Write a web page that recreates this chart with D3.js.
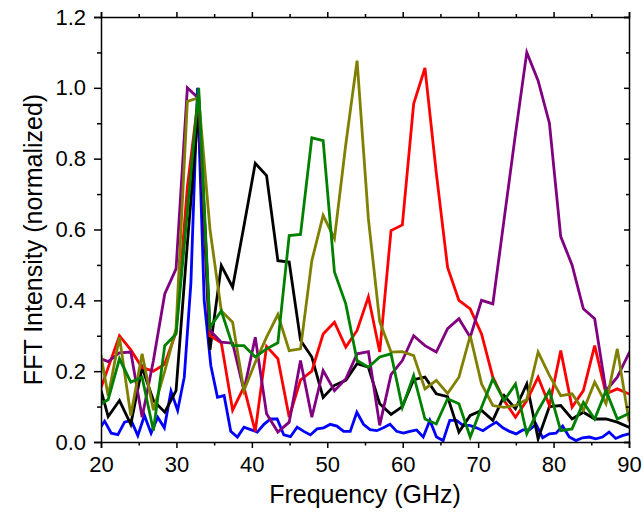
<!DOCTYPE html>
<html>
<head>
<meta charset="utf-8">
<script src="https://cdn.jsdelivr.net/npm/d3@7"></script>
<style>
  body { margin: 0; background: #fff; }
  text { font-family: Arial, "Liberation Sans", sans-serif; fill: #000; }
</style>
</head>
<body>
<div id="chart"></div>
<script>
// frequency grids (GHz)
var freqCoarse = [19.45, 20.95, 22.45, 23.95, 25.45, 26.95, 28.45, 29.95, 31.45, 32.95, 34.45, 35.95, 37.45, 38.95,
  40.45, 41.95, 43.45, 44.95, 46.45, 47.95, 49.45, 50.95, 52.45, 53.95, 55.45, 56.95, 58.45, 59.95, 61.45, 62.95,
  64.45, 65.95, 67.45, 68.95, 70.45, 71.95, 73.45, 74.95, 76.45, 77.95, 79.45, 80.95, 82.45, 83.95, 85.45, 86.95,
  88.45, 89.95, 91.45];
var freqFine = [19.6, 20.48, 21.36, 22.24, 23.12, 24.0, 24.88, 25.76, 26.64, 27.52, 28.4, 29.28, 30.16, 31.04, 31.92,
  32.8, 33.68, 34.56, 35.44, 36.32, 37.2, 38.08, 38.96, 39.84, 40.72, 41.6, 42.48, 43.36, 44.24, 45.12, 46.0, 46.88,
  47.76, 48.64, 49.52, 50.4, 51.28, 52.16, 53.04, 53.92, 54.8, 55.68, 56.56, 57.44, 58.32, 59.2, 60.08, 60.96, 61.84,
  62.72, 63.6, 64.48, 65.36, 66.24, 67.12, 68.0, 68.88, 69.76, 70.64, 71.52, 72.4, 73.28, 74.16, 75.04, 75.92, 76.8,
  77.68, 78.56, 79.44, 80.32, 81.2, 82.08, 82.96, 83.84, 84.72, 85.6, 86.48, 87.36, 88.24, 89.12, 90.0, 90.88];

// normalized FFT intensity
var blueVals = [0.03, 0.059, 0.025, 0.021, 0.056, 0.061, 0.018, 0.075, 0.025, 0.07, 0.04, 0.143, 0.089, 0.183, 0.45,
  1.0, 0.40, 0.216, 0.126, 0.131, 0.03, 0.014, 0.042, 0.035, 0.028, 0.05, 0.065, 0.065, 0.02, 0.015, 0.042, 0.03,
  0.02, 0.037, 0.04, 0.05, 0.045, 0.03, 0.03, 0.084, 0.05, 0.035, 0.032, 0.04, 0.05, 0.03, 0.025, 0.03, 0.034, 0.014,
  0.061, 0.014, 0.004, 0.061, 0.061, 0.047, 0.047, 0.04, 0.032, 0.045, 0.056, 0.04, 0.03, 0.023, 0.034, 0.034, 0.05,
  0.012, 0.023, 0.025, 0.045, 0.014, 0.004, 0.012, 0.014, 0.009, 0.014, 0.028, 0.01, 0.018, 0.023, 0.028];
var blackVals = [0.19, 0.072, 0.117, 0.05, 0.21, 0.117, 0.084, 0.145, 0.56, 0.95, 0.26, 0.498, 0.437, 0.61, 0.787,
  0.752, 0.512, 0.508, 0.287, 0.24, 0.126, 0.16, 0.174, 0.221, 0.211, 0.108, 0.078, 0.10, 0.176, 0.183, 0.136, 0.128,
  0.028, 0.075, 0.089, 0.061, 0.131, 0.094, 0.164, 0.009, 0.10, 0.103, 0.065, 0.084, 0.065, 0.065, 0.056, 0.042, 0.035];
var redVals = [0.12, 0.21, 0.30, 0.26, 0.21, 0.20, 0.22, 0.31, 0.72, 0.98, 0.30, 0.28, 0.09, 0.155, 0.03, 0.27,
  0.235, 0.07, 0.175, 0.20, 0.305, 0.338, 0.268, 0.315, 0.41, 0.254, 0.597, 0.613, 0.955, 1.056, 0.76, 0.493, 0.40,
  0.376, 0.305, 0.183, 0.117, 0.07, 0.117, 0.183, 0.103, 0.258, 0.098, 0.145, 0.272, 0.136, 0.15, 0.136, 0.15];
var purpleVals = [0.24, 0.227, 0.252, 0.254, 0.07, 0.23, 0.418, 0.489, 1.0, 0.97, 0.315, 0.282, 0.279, 0.145, 0.296,
  0.08, 0.028, 0.056, 0.23, 0.07, 0.202, 0.145, 0.178, 0.249, 0.255, 0.047, 0.19, 0.23, 0.30, 0.272, 0.254, 0.32,
  0.348, 0.296, 0.40, 0.39, 0.63, 0.87, 1.10, 1.02, 0.90, 0.58, 0.50, 0.376, 0.348, 0.145, 0.183, 0.249, 0.30];
var oliveVals = [0.31, 0.13, 0.296, 0.075, 0.249, 0.09, 0.20, 0.32, 0.962, 0.972, 0.60, 0.37, 0.338, 0.145, 0.225,
  0.296, 0.36, 0.258, 0.263, 0.512, 0.64, 0.574, 0.84, 1.077, 0.63, 0.34, 0.254, 0.255, 0.244, 0.15, 0.174, 0.137,
  0.183, 0.30, 0.164, 0.103, 0.098, 0.103, 0.12, 0.254, 0.188, 0.131, 0.136, 0.089, 0.169, 0.108, 0.263, 0.065, 0.12];
var greenVals = [0.10, 0.12, 0.235, 0.169, 0.183, 0.032, 0.272, 0.305, 0.65, 1.0, 0.324, 0.37, 0.272, 0.272, 0.24,
  0.263, 0.28, 0.583, 0.586, 0.859, 0.851, 0.48, 0.39, 0.23, 0.211, 0.24, 0.249, 0.098, 0.188, 0.065, 0.051, 0.122,
  0.108, 0.014, 0.098, 0.178, 0.117, 0.164, 0.023, 0.089, 0.145, 0.032, 0.037, 0.112, 0.065, 0.145, 0.065, 0.08, 0.09];

var xMajor = [20, 30, 40, 50, 60, 70, 80, 90];
var xMinor = [25, 35, 45, 55, 65, 75, 85];
var yMajor = [0, 0.2, 0.4, 0.6, 0.8, 1.0, 1.2];
var yMinor = [0.1, 0.3, 0.5, 0.7, 0.9, 1.1];

// drawing order: first is at the bottom
var series = [
  {name: "blue", color: "#0000ff", freq: freqFine, vals: blueVals},
  {name: "black", color: "#000000", freq: freqCoarse, vals: blackVals},
  {name: "red", color: "#ff0000", freq: freqCoarse, vals: redVals},
  {name: "purple", color: "#800080", freq: freqCoarse, vals: purpleVals},
  {name: "olive", color: "#808000", freq: freqCoarse, vals: oliveVals},
  {name: "green", color: "#008000", freq: freqCoarse, vals: greenVals}
];

var svg = d3.select("#chart").append("svg").attr("width", 644).attr("height", 519),
  plotLeft = 101, plotRight = 629, plotTop = 17, plotBottom = 442;

var x = d3.scaleLinear().domain([20, 90]).range([plotLeft, plotRight]);
var y = d3.scaleLinear().domain([0, 1.2]).range([plotBottom, plotTop]);

svg.append("clipPath").attr("id", "plotClip")
  .append("rect")
  .attr("x", plotLeft).attr("y", plotTop)
  .attr("width", plotRight - plotLeft).attr("height", plotBottom - plotTop);

var line = d3.line()
  .x(function (d) { return x(d[0]); })
  .y(function (d) { return y(d[1]); });

svg.append("g").attr("clip-path", "url(#plotClip)")
  .selectAll("path")
  .data(series)
  .enter().append("path")
  .attr("fill", "none")
  .attr("stroke", function (d) { return d.color; })
  .attr("stroke-width", 2.8)
  .attr("stroke-linejoin", "miter")
  .attr("d", function (d) {
    return line(d.freq.map(function (f, i) { return [f, d.vals[i]]; }));
  });

// axes (major + minor on each side)
function styleAxis(g) {
  g.selectAll("path, line").attr("stroke", "#000").attr("stroke-width", 1.5);
  g.selectAll("text").style("font-size", "22px").style("font-family", "Arial, 'Liberation Sans', sans-serif");
}

svg.append("g").attr("transform", "translate(0," + plotBottom + ")")
  .call(d3.axisBottom(x).tickValues(xMajor).tickSize(6).tickPadding(8).tickFormat(d3.format("d")))
  .call(styleAxis);
svg.append("g").attr("transform", "translate(0," + plotBottom + ")")
  .call(d3.axisBottom(x).tickValues(xMinor).tickSize(3.5).tickFormat(""))
  .call(styleAxis).select(".domain").remove();

svg.append("g").attr("transform", "translate(" + plotLeft + ",0)")
  .call(d3.axisLeft(y).tickValues(yMajor).tickSize(7).tickPadding(8).tickFormat(d3.format(".1f")))
  .call(styleAxis);
svg.append("g").attr("transform", "translate(" + plotLeft + ",0)")
  .call(d3.axisLeft(y).tickValues(yMinor).tickSize(4).tickFormat(""))
  .call(styleAxis).select(".domain").remove();

svg.append("g").attr("transform", "translate(0," + plotTop + ")")
  .call(d3.axisTop(x).tickValues(xMajor).tickSize(5).tickFormat(""))
  .call(styleAxis);
svg.append("g").attr("transform", "translate(0," + plotTop + ")")
  .call(d3.axisTop(x).tickValues(xMinor).tickSize(3).tickFormat(""))
  .call(styleAxis).select(".domain").remove();

svg.append("g").attr("transform", "translate(" + plotRight + ",0)")
  .call(d3.axisLeft(y).tickValues(yMajor).tickSize(5).tickFormat(""))
  .call(styleAxis);
svg.append("g").attr("transform", "translate(" + plotRight + ",0)")
  .call(d3.axisLeft(y).tickValues(yMinor).tickSize(3).tickFormat(""))
  .call(styleAxis).select(".domain").remove();

svg.append("text")
  .attr("x", (plotLeft + plotRight) / 2)
  .attr("y", 503)
  .attr("text-anchor", "middle")
  .style("font-size", "25px")
  .text("Frequency (GHz)");

svg.append("text")
  .attr("transform", "translate(42," + ((plotTop + plotBottom) / 2 + 10) + ") rotate(-90)")
  .attr("text-anchor", "middle")
  .style("font-size", "25px")
  .text("FFT Intensity (normalized)");
</script>
</body>
</html>
